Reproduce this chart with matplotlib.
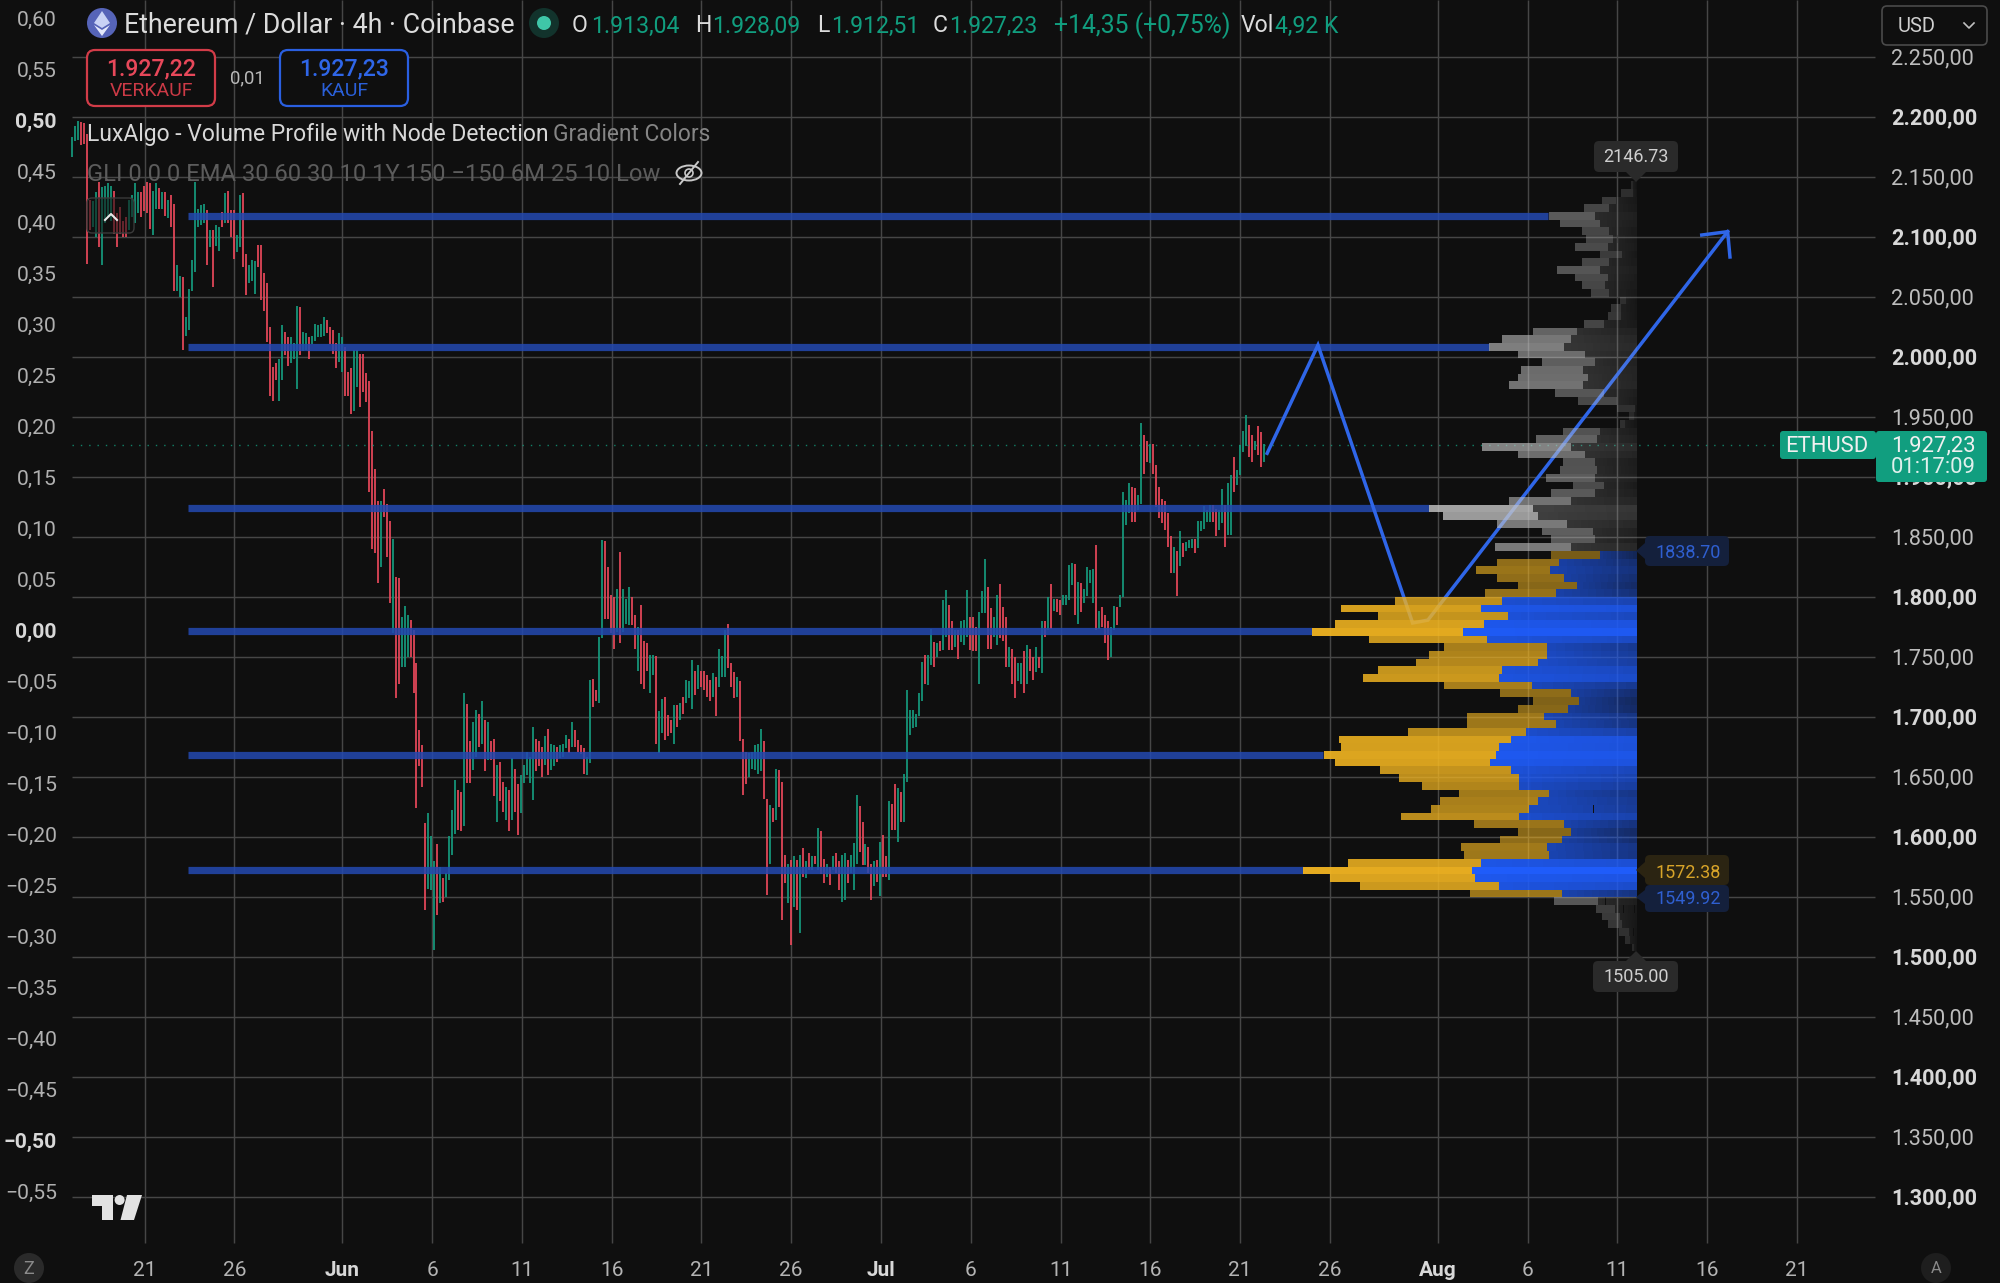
import numpy as np
import matplotlib
matplotlib.use("Agg")
import matplotlib.pyplot as plt
from matplotlib.patches import FancyBboxPatch, Polygon, Ellipse, Circle
from matplotlib.transforms import blended_transform_factory

plt.rcParams['font.family'] = ['Roboto', 'DejaVu Sans']

# 4h bars, starting May 17 (highs, lows, direction G/R)
bar_high = [
    2184,2193,2197,2196,2195,2186,2131,2130,2138,2146,
    2142,2143,2145,2143,2139,2120,2125,2114,2117,2131,
    2135,2145,2138,2138,2143,2146,2145,2139,2145,2141,
    2138,2138,2131,2135,2128,2077,2068,2067,2034,2057,
    2081,2146,2124,2127,2128,2123,2106,2106,2110,2109,
    2121,2137,2139,2123,2123,2102,2135,2137,2086,2077,
    2081,2080,2094,2094,2070,2062,2025,1992,1995,1999,
    2027,2021,2017,2017,2012,2043,2042,2021,2020,2017,
    2018,2028,2027,2028,2034,2031,2025,2023,2012,2020,
    2017,2009,1988,1991,2006,2006,2003,2003,1987,1980,
    1939,1907,1880,1880,1890,1878,1864,1849,1817,1816,
    1784,1793,1785,1781,1773,1745,1689,1677,1612,1620,
    1601,1580,1594,1575,1566,1570,1601,1623,1648,1639,
    1638,1720,1711,1680,1696,1706,1703,1714,1698,1696,
    1680,1682,1660,1663,1646,1642,1639,1666,1657,1644,
    1652,1660,1671,1667,1692,1682,1680,1675,1684,1690,
    1678,1677,1675,1677,1678,1685,1682,1696,1689,1681,
    1677,1674,1667,1731,1732,1723,1767,1848,1847,1825,
    1802,1800,1807,1838,1807,1799,1809,1800,1785,1775,
    1794,1764,1762,1752,1752,1751,1705,1715,1717,1702,
    1698,1710,1710,1712,1717,1731,1730,1748,1739,1744,
    1739,1739,1735,1731,1737,1734,1757,1751,1773,1778,
    1745,1738,1734,1730,1682,1671,1670,1671,1677,1678,
    1690,1680,1632,1627,1624,1657,1656,1646,1585,1578,
    1581,1584,1581,1585,1591,1580,1587,1584,1584,1608,
    1605,1582,1578,1575,1584,1587,1580,1585,1587,1581,
    1585,1595,1635,1626,1613,1594,1592,1578,1580,1581,
    1596,1602,1584,1630,1628,1644,1641,1638,1653,1723,
    1706,1706,1703,1720,1746,1752,1752,1774,1763,1762,
    1764,1798,1806,1794,1780,1773,1773,1780,1781,1806,
    1784,1784,1775,1788,1805,1832,1809,1791,1784,1802,
    1811,1792,1784,1759,1757,1750,1745,1745,1755,1760,
    1757,1750,1759,1750,1780,1780,1800,1811,1799,1799,
    1798,1802,1802,1827,1829,1828,1813,1812,1807,1825,
    1823,1824,1844,1789,1792,1785,1780,1775,1793,1792,
    1802,1888,1881,1895,1892,1891,1885,1945,1935,1930,
    1928,1928,1910,1892,1882,1880,1870,1851,1842,1839,
    1855,1845,1846,1848,1849,1849,1864,1864,1876,1873,
    1877,1877,1874,1873,1890,1877,1895,1902,1917,1906,
    1927,1939,1952,1944,1935,1930,1943,1938,1928,
]
bar_low = [
    2167,2180,2181,2177,2178,2078,2106,2109,2100,2092,
    2077,2112,2117,2114,2103,2092,2103,2100,2100,2106,
    2117,2112,2120,2117,2122,2120,2107,2102,2124,2124,
    2124,2118,2116,2109,2055,2055,2050,2006,2018,2023,
    2055,2071,2109,2110,2112,2077,2092,2059,2093,2089,
    2109,2112,2112,2100,2082,2088,2092,2075,2052,2062,
    2064,2053,2075,2048,2039,2013,1968,1964,1981,1964,
    1981,2002,1993,1995,1999,1974,2002,2005,2006,1999,
    2011,2014,2017,2017,2018,2020,2011,2003,1991,1996,
    1988,1968,1968,1953,1955,1975,1959,1971,1963,1888,
    1840,1837,1812,1825,1867,1834,1795,1770,1716,1728,
    1742,1742,1750,1750,1720,1624,1659,1642,1539,1557,
    1556,1506,1535,1545,1546,1550,1564,1585,1603,1606,
    1605,1609,1645,1645,1656,1667,1675,1678,1655,1664,
    1664,1634,1613,1630,1621,1614,1605,1614,1621,1602,
    1620,1645,1652,1645,1631,1655,1659,1650,1660,1652,
    1656,1659,1663,1666,1667,1674,1670,1675,1675,1671,
    1669,1653,1652,1662,1709,1714,1712,1766,1782,1782,
    1770,1757,1771,1762,1771,1778,1777,1777,1757,1739,
    1728,1724,1739,1720,1735,1678,1670,1687,1681,1684,
    1687,1678,1692,1698,1703,1712,1716,1707,1719,1724,
    1725,1723,1717,1714,1717,1701,1725,1734,1734,1741,
    1725,1716,1717,1680,1635,1644,1650,1657,1656,1653,
    1655,1632,1552,1578,1613,1614,1625,1531,1562,1545,
    1510,1542,1539,1520,1567,1566,1573,1573,1578,1573,
    1569,1562,1567,1560,1573,1570,1556,1546,1548,1562,
    1570,1556,1578,1588,1577,1577,1570,1548,1559,1563,
    1551,1567,1567,1564,1606,1606,1596,1613,1613,1646,
    1685,1691,1692,1701,1714,1728,1727,1744,1742,1750,
    1755,1756,1767,1756,1756,1759,1749,1763,1760,1767,
    1756,1755,1755,1728,1787,1787,1757,1757,1767,1760,
    1766,1764,1742,1742,1728,1716,1730,1728,1720,1728,
    1739,1731,1738,1741,1737,1767,1773,1774,1789,1788,
    1785,1794,1794,1798,1810,1785,1778,1788,1795,1801,
    1812,1795,1773,1774,1775,1762,1748,1750,1773,1777,
    1792,1800,1860,1870,1863,1863,1873,1878,1903,1913,
    1912,1903,1875,1866,1862,1856,1842,1820,1820,1801,
    1826,1834,1839,1841,1841,1837,1841,1855,1857,1863,
    1863,1863,1851,1856,1862,1842,1852,1852,1888,1894,
    1902,1921,1926,1917,1913,1923,1919,1909,1913,
]
bar_dir = (
    "GGGRRRRGGR" "GGGGRRRRRG" "GGGRRRRGGR" "GRGRRGGRGG" "GGGGGRGRGG"
    "RGRRRGGRRG" "GGRRRRRRRG" "GRRGGGRGGR" "GGGGGRRRRG" "GRRRGGRRRR"
    "RRRGRRRGRR" "GGGRRRRRRG" "GGRGRGGGGR" "RGRRGGRGRG" "RRGRRGRGRR"
    "GGGGGRRRGR" "GGRGGGRGRR" "RRGGRRGGRR" "RRGRGGGRRG" "RRRGGRGGRR"
    "RGRGRGGGRG" "RRRRGRGGGR" "RRGRRRGGGG" "GRRGRGRRRG" "RGRGRGRGRG"
    "RRGRGRRGGR" "GGGRRGRRGR" "GRRGRRGRGG" "GGGGGRGGRG" "RGGRRGRGGG"
    "RRRGGGRRGG" "RRRGRRGGRG" "RRGRGRGRGR" "RGGGGRGRGG" "GGRGRRRGGR"
    "GGGGRRGGRR" "GRRRRRRRGR" "GRGGGRGGGG" "GRRGGRGGRG" "GGGRRGRRG"
)

# price levels from the node detection, and where each one stops
level_price = [2117.75, 2008.6, 1874.2, 1771.9, 1668.6, 1572.38]
level_end_day = [67.14, 63.85, 60.49, 54.0, 54.6, 53.5]
level_start_day = -8.58

# volume profile, 100 rows between the range high and low
profile_high = 2146.73
profile_low = 1505.00
va_high = 1838.70
va_low = 1549.92
poc = 1572.38
profile_total = [
    6,16,35,53,88,77,55,51,62,37,55,80,62,55,46,17,26,29,53,104,
    135,148,119,95,116,119,128,82,59,20,8,17,74,101,155,119,74,77,91,64,
    86,128,208,194,140,95,86,142,86,140,161,140,119,152,242,296,259,302,325,268,
    193,208,221,259,274,193,137,104,119,170,170,229,298,296,313,302,257,238,215,178,
    197,206,236,163,119,137,176,173,289,334,307,277,167,83,41,35,29,18,12,5,
]
profile_inner = [
    4,4,21,28,42,37,28,24,29,15,28,37,29,32,28,11,16,16,33,60,
    66,73,52,42,54,49,54,33,20,2,3,12,37,40,66,52,42,40,42,33,
    42,66,104,99,70,44,42,66,37,78,87,73,60,81,135,156,129,153,174,150,
    90,90,99,135,138,105,66,58,69,93,81,111,126,138,141,147,126,118,118,88,
    99,108,118,73,66,75,90,88,156,165,162,138,75,39,22,17,15,8,7,3,
]

# hand-drawn projection path (day, price)
path_day = [51.5, 54.33, 59.6, 60.45, 77.14]
path_price = [1920, 2010.2, 1778.6, 1781, 2104.7]
head_day = [75.7, 77.14, 77.27]
head_price = [2101.9, 2104.7, 2083.6]

last_price = 1927.23
price_ticks = list(range(1300, 2251, 50))
day_ticks = [-11,-6,0,5,10,15,20,25,30,35,40,45,50,55,61,66,71,76,81]
day_labels = ['21','26','Jun','6','11','16','21','26','Jul','6','11','16','21','26','Aug','6','11','16','21']
left_ticks = [0.60,0.55,0.50,0.45,0.40,0.35,0.30,0.25,0.20,0.15,0.10,0.05,0.00,-0.05,-0.10,-0.15,
              -0.20,-0.25,-0.30,-0.35,-0.40,-0.45,-0.50,-0.55]

BG = '#0f0f0f'
GRID = '#464646'
GREEN = '#159a7d'
RED = '#e8485a'
TEAL = '#119e7f'
BLUE = '#2f66e8'

# days are counted from Jun 1, one day is 17.96 px, one dollar 1.2 px
fig = plt.figure(figsize=(20, 12.83), dpi=100, facecolor=BG)
ax = fig.add_axes([0, 0, 1, 1], facecolor=BG)
ax.set_xlim(-342.2 / 17.96, (2000 - 342.2) / 17.96)
ax.set_ylim(2100 - (1283 - 237.3) / 1.2, 2100 + 237.3 / 1.2)
ax.axis('off')

ui = fig.add_axes([0, 0, 1, 1], facecolor='none')
ui.set_xlim(0, 2000)
ui.set_ylim(1283, 0)
ui.axis('off')

pane_left = -15.04
pane_right = 85.34
pane_bottom = 1261.9
pane_top = ax.get_ylim()[1]

# grid
ax.hlines(price_ticks, pane_left, pane_right, color=GRID, lw=1.05, zorder=1)
ax.vlines(day_ticks, pane_bottom, pane_top, color=GRID, lw=1.05, zorder=1)

# bars
bar_day = -15.03 + np.arange(len(bar_high)) / 6
bar_colors = [GREEN if d == 'G' else RED for d in bar_dir]
ax.vlines(bar_day, bar_low, bar_high, colors=bar_colors, lw=1.25, zorder=2)

# levels
for price, end in zip(level_price, level_end_day):
    ax.plot([level_start_day, end], [price, price], color='#2349b0', lw=5.2,
            alpha=0.86, solid_capstyle='butt', zorder=3)

# last price dotted line
ax.plot([pane_left, 80.3], [last_price, last_price], color=TEAL, lw=1.0,
        dashes=(1, 5), alpha=0.8, zorder=2)

# projection
ax.plot(path_day, path_price, color=BLUE, lw=2.5, solid_joinstyle='miter', zorder=3)
ax.plot(head_day, head_price, color=BLUE, lw=2.5, solid_joinstyle='miter', zorder=3)

# volume profile, the inner part fades to the right on thin rows
px_day = 1 / 17.96
right_day = (1636.7 - 342.2) / 17.96
row_h = (profile_high - profile_low) / 100
row_price = profile_high - row_h * (np.arange(100) + 0.5)
total = np.array(profile_total, dtype=float)
inner = np.array(profile_inner, dtype=float)
share = total / total.max()
fade_steps = 10
for p, t, n, s in zip(row_price, total, inner, share):
    if va_low < p < va_high:
        a = 0.3 + 0.65 * s
        outer_col = (0.95, 0.71, 0.13, a)
        inner_rgb = (0.12, 0.36, 0.98)
        inner_a = a + 0.05
    else:
        a = min(0.12 + 1.1 * s, 0.9)
        outer_col = (0.78, 0.78, 0.78, a)
        inner_rgb = (0.78, 0.78, 0.78)
        inner_a = a * 0.3 + 0.03
    ax.barh(p, (t - n) * px_day, left=right_day - t * px_day, height=row_h,
            color=outer_col, lw=0, zorder=4)
    seg = n * px_day / fade_steps
    for j in range(fade_steps):
        f = j / (fade_steps - 1)
        seg_a = inner_a * (1 - (1 - s) * 0.55 * f)
        ax.barh(p, seg, left=right_day - n * px_day + j * seg, height=row_h,
                color=inner_rgb + (seg_a,), lw=0, zorder=4, snap=True)


def label(x, y, s, color='#d0d0d0', size=15.5, ha='left', va='center', weight='normal', **kw):
    # va='center' sits a little high for digits, push it down
    return ui.text(x, y + 1.5, s, color=color, fontsize=size, ha=ha, va=va, fontweight=weight, **kw)


def box(x0, y0, x1, y1, fc, ec='none', lw=0, r=5, z=6):
    ui.add_patch(FancyBboxPatch((x0 + r, y0 + r), x1 - x0 - 2 * r, y1 - y0 - 2 * r,
                                boxstyle=f'round,pad={r},rounding_size={r}',
                                fc=fc, ec=ec, lw=lw, zorder=z, mutation_aspect=1))


# price scale on the right
right_tf = blended_transform_factory(ui.transData, ax.transData)
for p in price_ticks:
    txt = f'{p // 1000}.{p % 1000:03d},00'
    bold = p % 100 == 0
    ui.text(1891, p - 1.2, txt, transform=right_tf, color='#d8d8d8' if bold else '#bdbdbd', fontsize=15.6,
            va='center', ha='left', fontweight='bold' if bold else 'normal', clip_on=True, zorder=2)

# left scale of the hidden indicator
for v in left_ticks:
    txt = f'{abs(v):.2f}'.replace('.', ',')
    if v < 0:
        txt = '\u2212' + txt
    bold = round(v * 100) % 50 == 0
    label(57, 631 - v * 1020, txt, ha='right', size=15.2, color='#d8d8d8' if bold else '#b0b0b0',
          weight='bold' if bold else 'normal')

# time scale
for d, s in zip(day_ticks, day_labels):
    bold = not s.isdigit()
    ui.text(d, 1270, s, transform=blended_transform_factory(ax.transData, ui.transData),
            color='#d8d8d8' if bold else '#b4b4b4', fontsize=15, ha='center', va='center',
            fontweight='bold' if bold else 'normal')

# header
ui.add_patch(Ellipse((102, 23), 30, 30, fc='#5664b8', ec='none', zorder=6))
ui.add_patch(Polygon([(102, 11), (110, 23), (102, 28), (94, 23)], fc='#c8d2f5', ec='none', zorder=7))
ui.add_patch(Polygon([(102, 30), (110, 25), (102, 36), (94, 25)], fc='#e4e9fb', ec='none', zorder=7))
label(124, 24, 'Ethereum / Dollar · 4h · Coinbase', size=19.3, color='#dcdcdc', zorder=8)
ui.add_patch(Circle((544, 23), 15, fc='#12332c', ec='none', zorder=6))
ui.add_patch(Circle((544, 23), 7, fc='#3fc6a8', ec='none', zorder=7))

hdr_y = 24.5
label(572, hdr_y, 'O', color='#dcdcdc', size=16.6)
label(591, hdr_y, '1.913,04', color=TEAL, size=16.6)
label(695, hdr_y, 'H', color='#dcdcdc', size=16.6)
label(712, hdr_y, '1.928,09', color=TEAL, size=16.6)
label(817, hdr_y, 'L', color='#dcdcdc', size=16.6)
label(831, hdr_y, '1.912,51', color=TEAL, size=16.6)
label(933, hdr_y, 'C', color='#dcdcdc', size=16.6)
label(949, hdr_y, '1.927,23', color=TEAL, size=16.6)
label(1054, hdr_y, '+14,35 (+0,75%)', color=TEAL, size=17.8)
label(1241, hdr_y, 'Vol', color='#dcdcdc', size=16.6)
label(1275, hdr_y, '4,92 K', color=TEAL, size=16.6)

# buy / sell buttons
box(87, 50, 215, 106, BG, ec='#d23c48', lw=1.6, r=8)
label(151, 67, '1.927,22', color='#e8485a', size=16.6, ha='center', zorder=8, weight=500)
label(151, 89, 'VERKAUF', color='#cc3a46', size=14, ha='center', zorder=8)
label(247, 77, '0,01', color='#b8b8b8', size=13.4, ha='center', zorder=8)
box(280, 50, 408, 106, BG, ec='#2a5fe0', lw=1.6, r=8)
label(344, 67, '1.927,23', color='#2f66e8', size=16.6, ha='center', zorder=8, weight=500)
label(344, 89, 'KAUF', color='#2a5fd8', size=14, ha='center', zorder=8)

# indicator legend
label(87, 133, 'LuxAlgo - Volume Profile with Node Detection', size=16.5, color='#d8d8d8', zorder=8)
label(553, 133, 'Gradient Colors', size=16.4, color='#858585', zorder=8)
label(87, 173, 'GLI 0 0 0 EMA 30 60 30 10 1Y 150 \u2212150 6M 25 10 Low', size=17.1, color='#5c5c5c', zorder=8)
ui.add_patch(Ellipse((689, 173), 25, 15, fc='none', ec='#c8c8c8', lw=1.4, zorder=8))
ui.add_patch(Circle((689, 173), 4, fc='none', ec='#c8c8c8', lw=1.2, zorder=8))
ui.plot([680, 698], [184, 162], color='#c8c8c8', lw=1.4, zorder=8)

# collapse button
box(87, 198, 134, 233, (0.06, 0.06, 0.06, 0.55), ec='#3a3a3a', lw=1.0, r=5)
ui.plot([105, 111, 117], [220, 214, 220], color='#e8e8e8', lw=1.5, zorder=8)

# currency selector
box(1882, 6, 1987, 45, BG, ec='#4a4a4a', lw=1.2, r=5)
label(1898, 25, 'USD', color='#d0d0d0', size=14.5, zorder=8)
ui.plot([1964, 1969, 1974], [23, 28, 23], color='#c0c0c0', lw=1.2, zorder=8)

# profile range and value area labels
box(1594, 141, 1678, 172, '#2a2a2a', r=5)
ui.add_patch(Polygon([(1626, 172), (1646, 172), (1636, 182)], fc='#2a2a2a', ec='none', zorder=6))
label(1636, 156, f'{profile_high:.2f}', color='#cfcfcf', size=13, ha='center', zorder=8)

box(1593, 961, 1678, 992, '#2a2a2a', r=5)
ui.add_patch(Polygon([(1626, 961), (1646, 961), (1636, 951)], fc='#2a2a2a', ec='none', zorder=6))
label(1636, 976, f'{profile_low:.2f}', color='#cfcfcf', size=13, ha='center', zorder=8)

box(1645, 536, 1729, 566, '#14203c', r=5)
ui.add_patch(Polygon([(1645, 543), (1645, 559), (1636, 551)], fc='#14203c', ec='none', zorder=6))
label(1688, 551, f'{va_high:.2f}', color='#2f5fd0', size=13, ha='center', zorder=8)

box(1645, 885, 1729, 912, '#14203c', r=5)
ui.add_patch(Polygon([(1645, 890), (1645, 904), (1636, 897)], fc='#14203c', ec='none', zorder=6))
label(1688, 898, f'{va_low:.2f}', color='#2f5fd0', size=13, ha='center', zorder=8)

box(1645, 855, 1729, 885, '#2b2412', r=5, z=7)
ui.add_patch(Polygon([(1645, 862), (1645, 878), (1636, 870)], fc='#2b2412', ec='none', zorder=7))
label(1688, 871, f'{poc:.2f}', color='#d8a429', size=13, ha='center', zorder=8)

# last price tag
ui.add_patch(FancyBboxPatch((1782, 433), 92, 24, boxstyle='round,pad=2,rounding_size=3', fc=TEAL, ec='none', zorder=6))
label(1827, 445, 'ETHUSD', color='#f0f0f0', size=15.8, ha='center', zorder=8)
ui.add_patch(FancyBboxPatch((1878, 433), 107, 47, boxstyle='round,pad=2,rounding_size=3', fc=TEAL, ec='none', zorder=6))
label(1933, 444, '1.927,23', color='#f0f0f0', size=15.8, ha='center', zorder=8)
label(1933, 466, '01:17:09', color='#e0f0ec', size=15.8, ha='center', zorder=8)

# TradingView mark
ui.add_patch(Polygon([(91.5, 1195), (113, 1195), (113, 1220), (102, 1220), (102, 1206), (91.5, 1206)],
                     fc='#e2e2e2', ec='none', zorder=6))
ui.add_patch(Circle((119.6, 1200), 5, fc='#e2e2e2', ec='none', zorder=7))
ui.add_patch(Polygon([(127, 1195), (142, 1195), (134, 1220), (120.5, 1220)], fc='#e2e2e2', ec='none', zorder=6))

# timezone and auto buttons
ui.add_patch(Circle((29, 1268), 15, fc='#2a2a2a', ec='none', zorder=6))
label(29, 1267, 'Z', color='#8a8a8a', size=13, ha='center', zorder=8)
ui.add_patch(Circle((1936, 1268), 15, fc='#1e1e1e', ec='none', zorder=6))
label(1936, 1267, 'A', color='#8a8a8a', size=12, ha='center', zorder=8)

fig.savefig('out.png', dpi=100, facecolor=BG)
